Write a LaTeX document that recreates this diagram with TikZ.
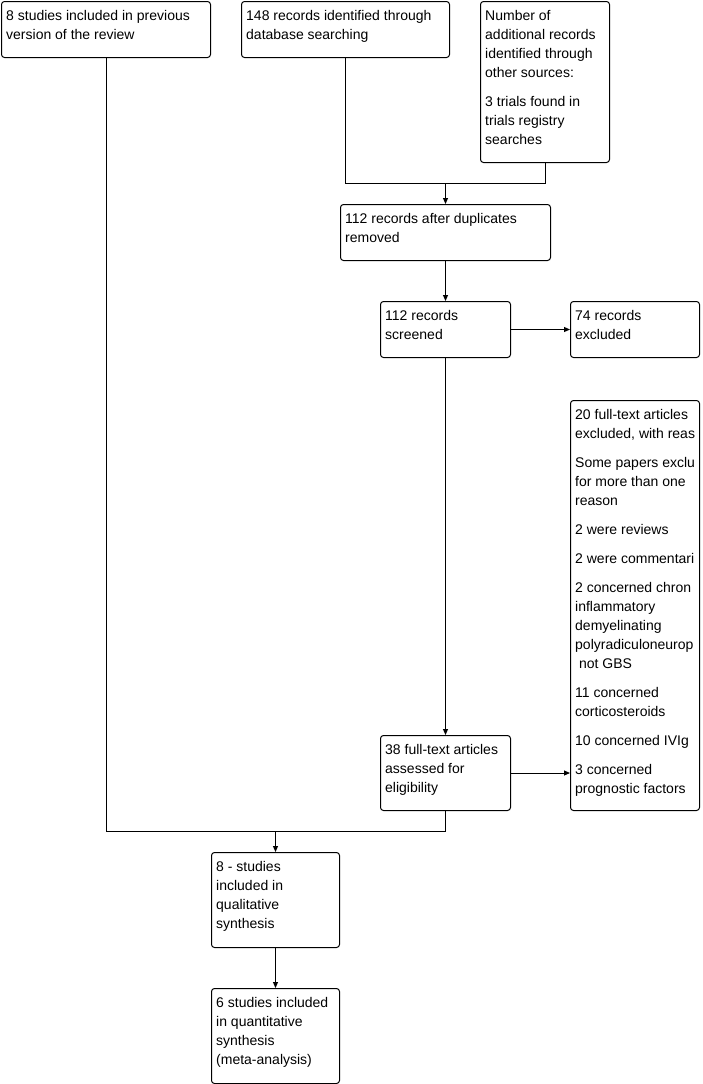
\documentclass[tikz,border=0pt]{standalone}
\usepackage{fontspec}
\setmainfont{Liberation Sans}
\usetikzlibrary{arrows.meta}
\newcommand\boxtext[1]{\parbox[t]{300pt}{\raggedright\fontsize{14}{19}\selectfont #1}}
\begin{document}
\begin{tikzpicture}[x=1pt,y=-1pt,
  box/.style={draw, line width=1pt, rounded corners=3pt, anchor=north west, inner sep=0pt},
  txt/.style={anchor=base west, inner sep=0pt},
  conn/.style={line width=1pt},
  arr/.style={line width=1pt, -{Triangle[length=6pt,width=5pt]}}]
\useasboundingbox (0,0) rectangle (702,1084);

\node[box, minimum width=209pt, minimum height=56pt]  (A) at (1,1)    {};
\node[box, minimum width=208pt, minimum height=56pt]  (B) at (241,1)  {};
\node[box, minimum width=129pt, minimum height=161pt] (C) at (480,1)  {};
\node[box, minimum width=210pt, minimum height=56pt]  (D) at (340,204) {};
\node[box, minimum width=130pt, minimum height=56pt]  (E) at (380,301) {};
\node[box, minimum width=129pt, minimum height=56pt]  (F) at (570,301) {};
\node[box, minimum width=129pt, minimum height=410pt] (G) at (570,400) {};
\node[box, minimum width=130pt, minimum height=75pt]  (H) at (380,735) {};
\node[box, minimum width=128pt, minimum height=95pt]  (I) at (211,852) {};
\node[box, minimum width=128pt, minimum height=95pt]  (J) at (211,988) {};

\node[txt] (tA) at ([shift={(5,19)}]A.north west) {\boxtext{8 studies included in previous\\version of the review}};
\node[txt] (tB) at ([shift={(5,19)}]B.north west) {\boxtext{148 records identified through\\database searching}};
\node[txt] (tC) at ([shift={(5,19)}]C.north west) {\boxtext{Number of\\additional records\\identified through\\other sources:\\[10pt]3 trials found in\\trials registry\\searches}};
\node[txt] (tD) at ([shift={(5,19)}]D.north west) {\boxtext{112 records after duplicates\\removed}};
\node[txt] (tE) at ([shift={(5,19)}]E.north west) {\boxtext{112 records\\screened}};
\node[txt] (tF) at ([shift={(5,19)}]F.north west) {\boxtext{74 records\\excluded}};
\node[txt] (tG) at ([shift={(5,19)}]G.north west) {\boxtext{20 full-text articles\\excluded, with reas\\[10pt]Some papers exclu\\for more than one\\reason\\[10pt]2 were reviews\\[10pt]2 were commentari\\[10pt]2 concerned chron\\inflammatory\\demyelinating\\polyradiculoneurop\\\hspace*{0.28em}not GBS\\[10pt]11 concerned\\corticosteroids\\[10pt]10 concerned IVIg\\[10pt]3 concerned\\prognostic factors}};
\node[txt] (tH) at ([shift={(5,19)}]H.north west) {\boxtext{38 full-text articles\\assessed for\\eligibility}};
\node[txt] (tI) at ([shift={(5,19)}]I.north west) {\boxtext{8 - studies\\included in\\qualitative\\synthesis}};
\node[txt] (tJ) at ([shift={(5,19)}]J.north west) {\boxtext{6 studies included\\in quantitative\\synthesis\\(meta-analysis)}};

\path (D.north) ++(0,-21) coordinate (m1);
\path (I.north) ++(0,-21) coordinate (m2);

\draw[conn] (B.south) -- (B.south |- m1) -- (C.south |- m1) -- (C.south);
\draw[arr] (m1) -- (D.north);
\draw[arr] (D.south) -- (E.north);
\draw[arr] (E.east) -- (F.west);
\draw[arr] (E.south) -- (H.north);
\draw[arr] (H.east) -- (H.east -| G.west);
\draw[conn] (A.south) -- (A.south |- m2) -- (H.south |- m2) -- (H.south);
\draw[arr] (m2) -- (I.north);
\draw[arr] (I.south) -- (J.north);
\end{tikzpicture}
\end{document}
